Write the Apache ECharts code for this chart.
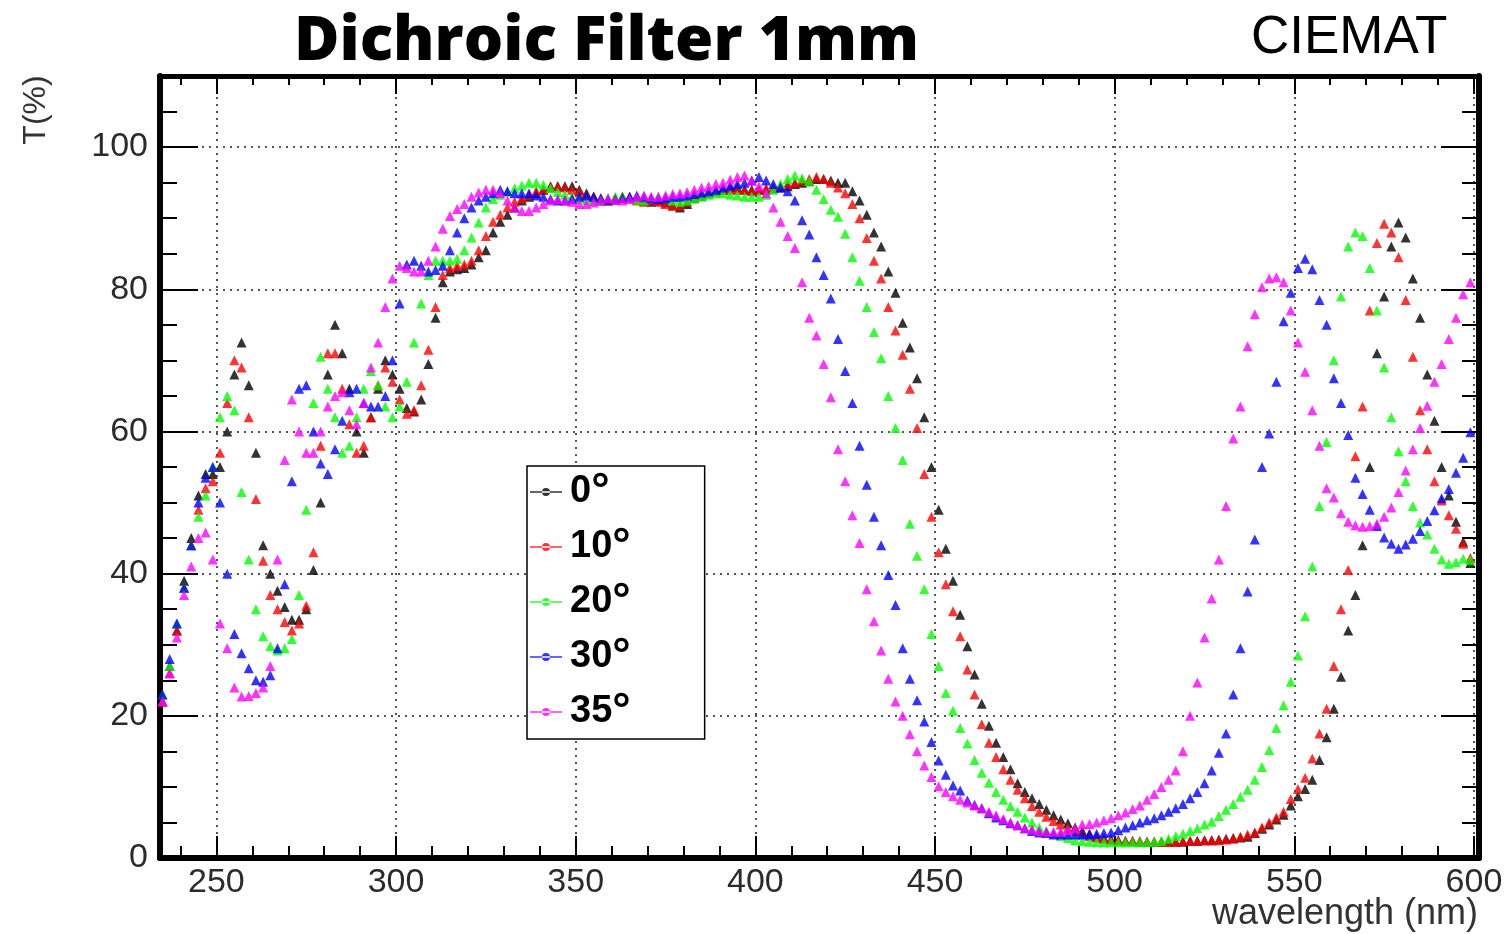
<!DOCTYPE html>
<html><head><meta charset="utf-8">
<script src="https://cdn.jsdelivr.net/npm/echarts@6/dist/echarts.min.js"></script>
<style>html,body{margin:0;padding:0;background:#fff}#c{width:1508px;height:934px}</style>
</head><body><div id="c"></div>
<script>
// ---------------- data ----------------
const wavelengths = [
235,237,239,241,243,245,247,249,251,253,
255,257,259,261,263,265,267,269,271,273,
275,277,279,281,283,285,287,289,291,293,
295,297,299,301,303,305,307,309,311,313,
315,317,319,321,323,325,327,329,331,333,
335,337,339,341,343,345,347,349,351,353,
355,357,359,361,363,365,367,369,371,373,
375,377,379,381,383,385,387,389,391,393,
395,397,399,401,403,405,407,409,411,413,
415,417,419,421,423,425,427,429,431,433,
435,437,439,441,443,445,447,449,451,453,
455,457,459,461,463,465,467,469,471,473,
475,477,479,481,483,485,487,489,491,493,
495,497,499,501,503,505,507,509,511,513,
515,517,519,521,523,525,527,529,531,533,
535,537,539,541,543,545,547,549,551,553,
555,557,559,561,563,565,567,569,571,573,
575,577,579,581,583,585,587,589,591,593,
595,597,599];

const t0deg = [
22,27,32,39,45,51,54,54,55,60,
68,72.5,66.5,57,44,40,37.6,35.3,33.5,33.5,
35,40.5,50,68,75,71,66,60,57,62,
66,70,68,66,63.3,62.8,64.5,69.5,76,81,
82.5,82.8,83,83.5,84.5,85.5,88,89.5,90.5,91.5,
92.5,93,93.5,94,94.5,94.5,94.5,94.5,94,93.5,
93,92.5,92.5,92.8,93,93,92.8,92.5,92.3,92.5,
92.2,91.8,91.5,92,92.8,93.2,93.5,93.8,94,94.3,
94.3,94,94,94,94,94.2,94.3,94.5,94.8,95,
95.2,95.5,95.5,95.3,95,95,93.8,92.5,90.5,88,
86,82.5,79.5,75.3,71.8,67.5,62,55,49,43.5,
39,34.2,29.8,25.8,21.7,18.6,16.2,14.2,12.5,10.5,
9.3,8.4,7.6,6.8,6,5.4,4.9,4.3,3.8,3.4,
3,2.8,2.6,2.5,2.4,2.4,2.3,2.3,2.3,2.3,
2.3,2.3,2.3,2.4,2.4,2.5,2.5,2.6,2.7,2.8,
2.9,3,3.5,4.1,4.7,5.4,6.1,7.4,8.7,9.7,
11,13.8,17,21,25.5,32,37,44,55,71,
79,86,89.4,87.3,81.5,76,68,61.5,55,51,
47.3,44.5,41.5];

const t10deg = [
22,26,32,38,44,49,52,53,57,64,
70,69,62,50.5,41.8,37,35,33.2,32,33,
35.5,43,58,71,71,66,61,57,58,62,
66.5,69,67,64.5,62.5,63,66.5,71.5,77.5,82,
83,83.3,83.5,84,85.5,87.5,89.5,90.5,91.5,92.3,
92.8,93.3,93.8,94,94.3,94.5,94.3,94,93.8,93.3,
93,92.8,92.5,92.8,93,92.8,92.5,92.3,92.5,92.3,
92,91.8,91.8,92.3,93,93.2,93.5,93.8,94,94,
94,94,93.8,94,94.2,94.3,94.5,94.8,95,95.3,
95.5,95.8,95.5,95,94.3,93.5,92,90,87.2,84,
81.5,77.5,74.2,70.8,66,60.5,54,48,43,38.5,
34.7,31.2,26.5,23,18.8,16.2,14.2,12.5,11,9.6,
8.4,7.3,6.5,5.8,5.2,4.7,4.2,3.8,3.4,3.1,
2.9,2.7,2.6,2.5,2.4,2.4,2.4,2.3,2.3,2.3,
2.3,2.3,2.4,2.4,2.4,2.5,2.5,2.5,2.6,2.7,
3,3.3,3.6,4.3,5,5.7,6.5,8.3,9.7,11.3,
14,17.5,21,27,35,40.5,56.5,63.5,77,86.5,
89.2,88,84.5,78.5,70.5,63,57.5,53,50.3,48.2,
46.3,44.2,42.2];

const t20deg = [
23,27,33,38,44,48,51,55,62,65,
63,51.5,42,35,31.2,29.8,29.2,29.5,30.8,37,
49,64,70.5,66,62,57,58,62,66,68.5,
66.5,63.5,62,63.5,67,72.5,78,82,84,84,
84,84.3,85.5,87.3,89.4,91.5,92.7,93.3,93.8,94.2,
94.6,95,95,94.7,94.2,93.7,93.3,93,92.8,92.6,
92.5,92.6,92.8,93,93,92.8,92.6,92.5,92.8,93,
92.8,92.5,92.3,92.5,92.8,93,93.3,93.5,93.5,93.3,
93.2,93,93,93,93.3,94,94.8,95.5,96,95.6,
95.2,94,92.7,91.2,90.2,87.8,84.5,81.2,77.5,74,
70.3,65,60.5,56,47,42.5,37.8,31.5,27,23.2,
20.7,18.3,16.1,13.8,12,10.6,9.3,8.2,7.3,6.5,
5.7,5,4.3,3.8,3.4,3.1,2.8,2.5,2.4,2.3,
2.2,2.2,2.2,2.2,2.2,2.2,2.2,2.2,2.3,2.4,
2.7,3.1,3.4,3.8,4.2,4.7,5.1,5.9,6.8,7.6,
8.6,9.6,11,12.8,15.2,18.3,21.5,24.8,28.5,34,
41,49.5,58.5,70,79,86,88,87.5,83,77,
69,62,57.2,53,49.5,47.2,45.5,43.5,42,41.4,
41.6,42.1,41.9];

const t30deg = [
23,28,33,38,44,50,53.5,55,50,40,
31.5,28.8,26.7,25,24.8,25.7,29.5,38.5,53,66,
66.5,60,55.5,54,57.5,61.5,65.5,66,64,63.5,
63.5,65,70,78,83.5,84,83.3,82.5,82.7,83.3,
85.5,88,90,91.5,92.5,93,93.5,94,93.8,93.5,
93.5,93.5,93.2,93,92.7,92.5,92.5,92.7,93,93.2,
93,92.8,92.6,92.6,92.8,93,93.2,93,92.8,92.7,
92.8,93,93,93.2,93.4,93.6,93.8,94,94.3,94.6,
94.8,95,95.3,95.8,95.3,94.8,94.3,93.8,92.5,89.7,
87.7,84.5,82,78.7,73,68.5,64,58,52.5,48,
44,39.8,35.6,29.5,25.2,22.2,19.2,16.3,13.7,11.7,
10.2,9.5,8.1,7.5,7,6.3,5.7,5.3,4.9,4.6,
4.2,3.8,3.6,3.5,3.3,3.3,3.3,3.3,3.3,3.3,
3.4,3.5,3.6,3.9,4.3,4.6,5,5.3,5.6,6,
6.5,7,7.6,8.4,9.3,10.5,12.3,14.8,17.5,23,
29.5,37.5,44.8,55,59.7,67,75.5,79.5,83,84.3,
82.8,78.5,75,67.5,64,59.5,53.5,51.2,49,46.7,
45.1,44.2,43.5,44.1,44.9,46,47.4,48.9,50.6,51.9,
54.2,56.3,59.9];

const t35deg = [
22,26,31,37,41,45,45.8,42,33,29.5,
24,22.7,22.8,23.2,24,27,42,56,64.5,60,
57,57,60,63.5,65,65.5,63,61,64,69,
72.5,77.5,81.5,83.3,83,82.5,82.5,84,86,88.5,
90.3,91.3,92,93,93.6,94,94,93.5,92.5,91.5,
91,91,91.5,92,92.5,92.7,92.5,92.3,92,92,
92.2,92.5,92.8,92.6,92.5,92.7,93,93.2,93,93,
93.2,93.4,93.5,93.7,94,94.3,94.5,94.8,95,95.4,
95.8,96,95.3,94.5,93.5,91.5,89.5,87.5,85.8,81,
76,73.5,69.5,64.8,57.5,53,48.2,44.3,37.8,33.3,
29.2,25.2,22,20,17.4,15,13,11.4,10.1,9.3,
8.7,8.2,7.8,7.4,7,6.5,6,5.5,5,4.6,
4.2,4,3.8,3.7,3.7,3.7,3.9,4.2,4.7,4.8,
5,5.3,5.6,6,6.4,6.9,7.4,8.2,9,10,
11,12.3,15,20,24.7,31,36.5,42,49.5,59,
63.5,72,76.5,80.3,81.5,81.7,81,77,72.5,68.4,
63,58,52,50.7,48.5,47.3,46.8,46.6,46.7,47,
48,49.3,51.5,54.5,57.5,60.5,63.6,67,69.5,73,
76,79.3,81];

const seriesNames = ['0°', '10°', '20°', '30°', '35°'];
const seriesValues = [t0deg, t10deg, t20deg, t30deg, t35deg];
const titleText = 'Dichroic Filter 1mm';
const labText = 'CIEMAT';
const xTitle = 'wavelength (nm)';
const yTitle = 'T(%)';

// ---------------- layout / style ----------------
const colors = ['#000000', '#ff0000', '#00ff00', '#0000ff', '#ff00ff'];
const W = 1508;
const G = {left: 160, right: 29, top: 76, bottom: 76};
const X_MIN = 234.3, X_MAX = 601.4;
const plotW = W - G.left - G.right;
const pxPerNm = plotW / (X_MAX - X_MIN);
const MINOR_MIN = 240, MINOR_MAX = 600;
const g2left = G.left + (MINOR_MIN - X_MIN) * pxPerNm;
const g2right = W - (G.left + (MINOR_MAX - X_MIN) * pxPerNm);

const FONT = '"Liberation Sans", Arial, Helvetica, sans-serif';
const labelColor = '#2b2b2b';
const grid = {type: [2, 5], color: '#555', width: 2};
const tick = (len) => ({show: true, inside: true, length: len, lineStyle: {color: '#000', width: 2}});
const frame = (w) => ({show: true, onZero: false, lineStyle: {color: '#000', width: w}});

const chart = echarts.init(document.getElementById('c'), null, {renderer: 'canvas'});
chart.setOption({
  animation: false,
  backgroundColor: '#fff',
  title: [
    {text: titleText, left: 289, top: 6, padding: 5,
     textStyle: {fontFamily: '"Open Sans", sans-serif', fontWeight: 800, fontSize: 62, color: '#000'}},
    {text: labText, left: 1246, top: 7, padding: 5,
     textStyle: {fontFamily: FONT, fontWeight: 'normal', fontSize: 53, color: '#000'}}
  ],
  grid: [
    {left: G.left, right: G.right, top: G.top, bottom: G.bottom, containLabel: false},
    {left: g2left, right: g2right, top: G.top, bottom: G.bottom, containLabel: false}
  ],
  xAxis: [
    {gridIndex: 0, type: 'value', min: X_MIN, max: X_MAX, splitNumber: 7, position: 'bottom',
     axisLine: frame(6), axisTick: tick(22),
     axisLabel: {showMinLabel: false, showMaxLabel: false, fontSize: 34, fontFamily: FONT, color: labelColor, margin: 8},
     splitLine: {show: true, lineStyle: grid}},
    {gridIndex: 0, type: 'value', min: X_MIN, max: X_MAX, splitNumber: 7, position: 'top',
     axisLine: frame(5), axisTick: tick(18), axisLabel: {show: false}, splitLine: {show: false}},
    {gridIndex: 1, type: 'value', min: MINOR_MIN, max: MINOR_MAX, interval: 10, position: 'bottom',
     axisLine: {show: false}, axisTick: tick(12), axisLabel: {show: false}, splitLine: {show: false}},
    {gridIndex: 1, type: 'value', min: MINOR_MIN, max: MINOR_MAX, interval: 10, position: 'top',
     axisLine: {show: false}, axisTick: tick(9), axisLabel: {show: false}, splitLine: {show: false}}
  ],
  yAxis: [
    {gridIndex: 0, type: 'value', min: 0, max: 110, interval: 20, position: 'left',
     axisLine: frame(6), axisTick: tick(38),
     axisLabel: {showMaxLabel: false, fontSize: 34, fontFamily: FONT, color: labelColor, margin: 12},
     splitLine: {show: true, lineStyle: grid}},
    {gridIndex: 0, type: 'value', min: 0, max: 110, interval: 20, position: 'right',
     axisLine: frame(6), axisTick: tick(38), axisLabel: {show: false}, splitLine: {show: false}},
    {gridIndex: 0, type: 'value', min: 0, max: 110, interval: 5, position: 'left',
     axisLine: {show: false}, axisTick: tick(17), axisLabel: {show: false}, splitLine: {show: false}},
    {gridIndex: 0, type: 'value', min: 0, max: 110, interval: 5, position: 'right',
     axisLine: {show: false}, axisTick: tick(17), axisLabel: {show: false}, splitLine: {show: false}},
    {gridIndex: 1, type: 'value', min: 0, max: 110, show: false}
  ],
  legend: {
    orient: 'vertical', left: 527, top: 466, selectedMode: false,
    backgroundColor: '#fff', borderColor: '#000', borderWidth: 1.5,
    padding: [3, 74, 4, 3], itemGap: 9, itemWidth: 32, itemHeight: 8,
    icon: 'path://M0,3.2 L32,3.2 L32,4.8 L0,4.8 Z M12,4 a4,4 0 1,0 8,0 a4,4 0 1,0 -8,0 Z',
    formatter: (n) => '{d|' + n.replace('°', '') + '}{s|°}',
    textStyle: {
      padding: [0, 0, 0, 3],
      rich: {
        d: {fontSize: 38, fontWeight: 'bold', fontFamily: FONT, color: '#000', lineHeight: 38},
        s: {fontSize: 46, fontWeight: 'bold', fontFamily: FONT, color: '#000', lineHeight: 38}
      }
    },
    data: seriesNames
  },
  graphic: [
    {type: 'text', x: 36, y: 110, rotation: Math.PI / 2,
     style: {text: yTitle, fontSize: 32, fontFamily: FONT, fill: '#333', align: 'center', verticalAlign: 'middle'}},
    {type: 'text', x: 1478, y: 914,
     style: {text: xTitle, fontSize: 36, fontFamily: FONT, fill: '#333', align: 'right', verticalAlign: 'middle'}}
  ],
  series: seriesNames.map((name, k) => ({
    name: name, type: 'scatter', xAxisIndex: 0, yAxisIndex: 0,
    symbol: 'triangle', symbolSize: 10,
    itemStyle: {color: colors[k]},
    data: wavelengths.map((w, i) => [w, seriesValues[k][i]])
  }))
});
</script></body></html>
